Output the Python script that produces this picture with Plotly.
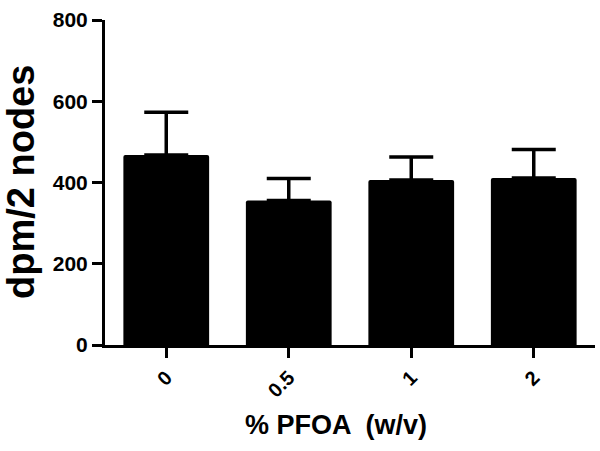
import plotly.graph_objects as go

categories = ["0", "0.5", "1", "2"]
means = [468, 356, 406, 411]
errors = [105, 54, 57, 70]
y_ticks = [0, 200, 400, 600, 800]

FONT = "Liberation Sans, Arial, sans-serif"

L, R, T, B = 105, 5, 20, 106
PW = 600 - L - R
PH = 451 - T - B

fig = go.Figure()
fig.add_trace(go.Bar(
    x=categories,
    y=means,
    width=0.7,
    marker=dict(color="black", line=dict(width=0), cornerradius=2),
    error_y=dict(type="data", symmetric=False, array=errors,
                 arrayminus=[0] * len(errors),
                 color="black", thickness=3.5, width=22),
))

fig.update_layout(
    width=600, height=451,
    margin=dict(l=L, r=R, t=T, b=B),
    plot_bgcolor="white", paper_bgcolor="white",
    showlegend=False,
    font=dict(family=FONT, color="black"),
)
fig.update_xaxes(
    type="category", range=[-0.5, 3.5], automargin=False,
    tickvals=categories, ticktext=["<b>%s</b>" % c for c in categories],
    showline=True, linecolor="black", linewidth=3,
    ticks="outside", ticklen=10, tickwidth=3, tickcolor="black",
    tickangle=-45,
    tickfont=dict(family=FONT, size=20, color="black"),
    showgrid=False, zeroline=False,
)
fig.update_yaxes(
    range=[0, 800], automargin=False,
    tickvals=y_ticks, ticktext=["<b>%d</b>" % v for v in y_ticks],
    showline=True, linecolor="black", linewidth=3,
    ticks="outside", ticklen=10, tickwidth=3, tickcolor="black",
    tickfont=dict(family=FONT, size=21, color="black"),
    showgrid=False, zeroline=False,
)

# axis titles placed as annotations
fig.add_annotation(
    text="<b>dpm/2 nodes</b>", textangle=-90, showarrow=False,
    xref="paper", yref="paper",
    x=(21 - L) / PW, y=(345 - 182) / PH,
    xanchor="center", yanchor="middle",
    font=dict(family=FONT, size=38, color="black"),
)
fig.add_annotation(
    text="<b>% PFOA  (w/v)</b>", showarrow=False,
    xref="paper", yref="paper",
    x=(336 - L) / PW, y=-(425 - 345) / PH,
    xanchor="center", yanchor="middle",
    font=dict(family=FONT, size=27, color="black"),
)

fig.write_html("out.html", config={"displayModeBar": False},
               post_script="document.body.style.margin='0';")
